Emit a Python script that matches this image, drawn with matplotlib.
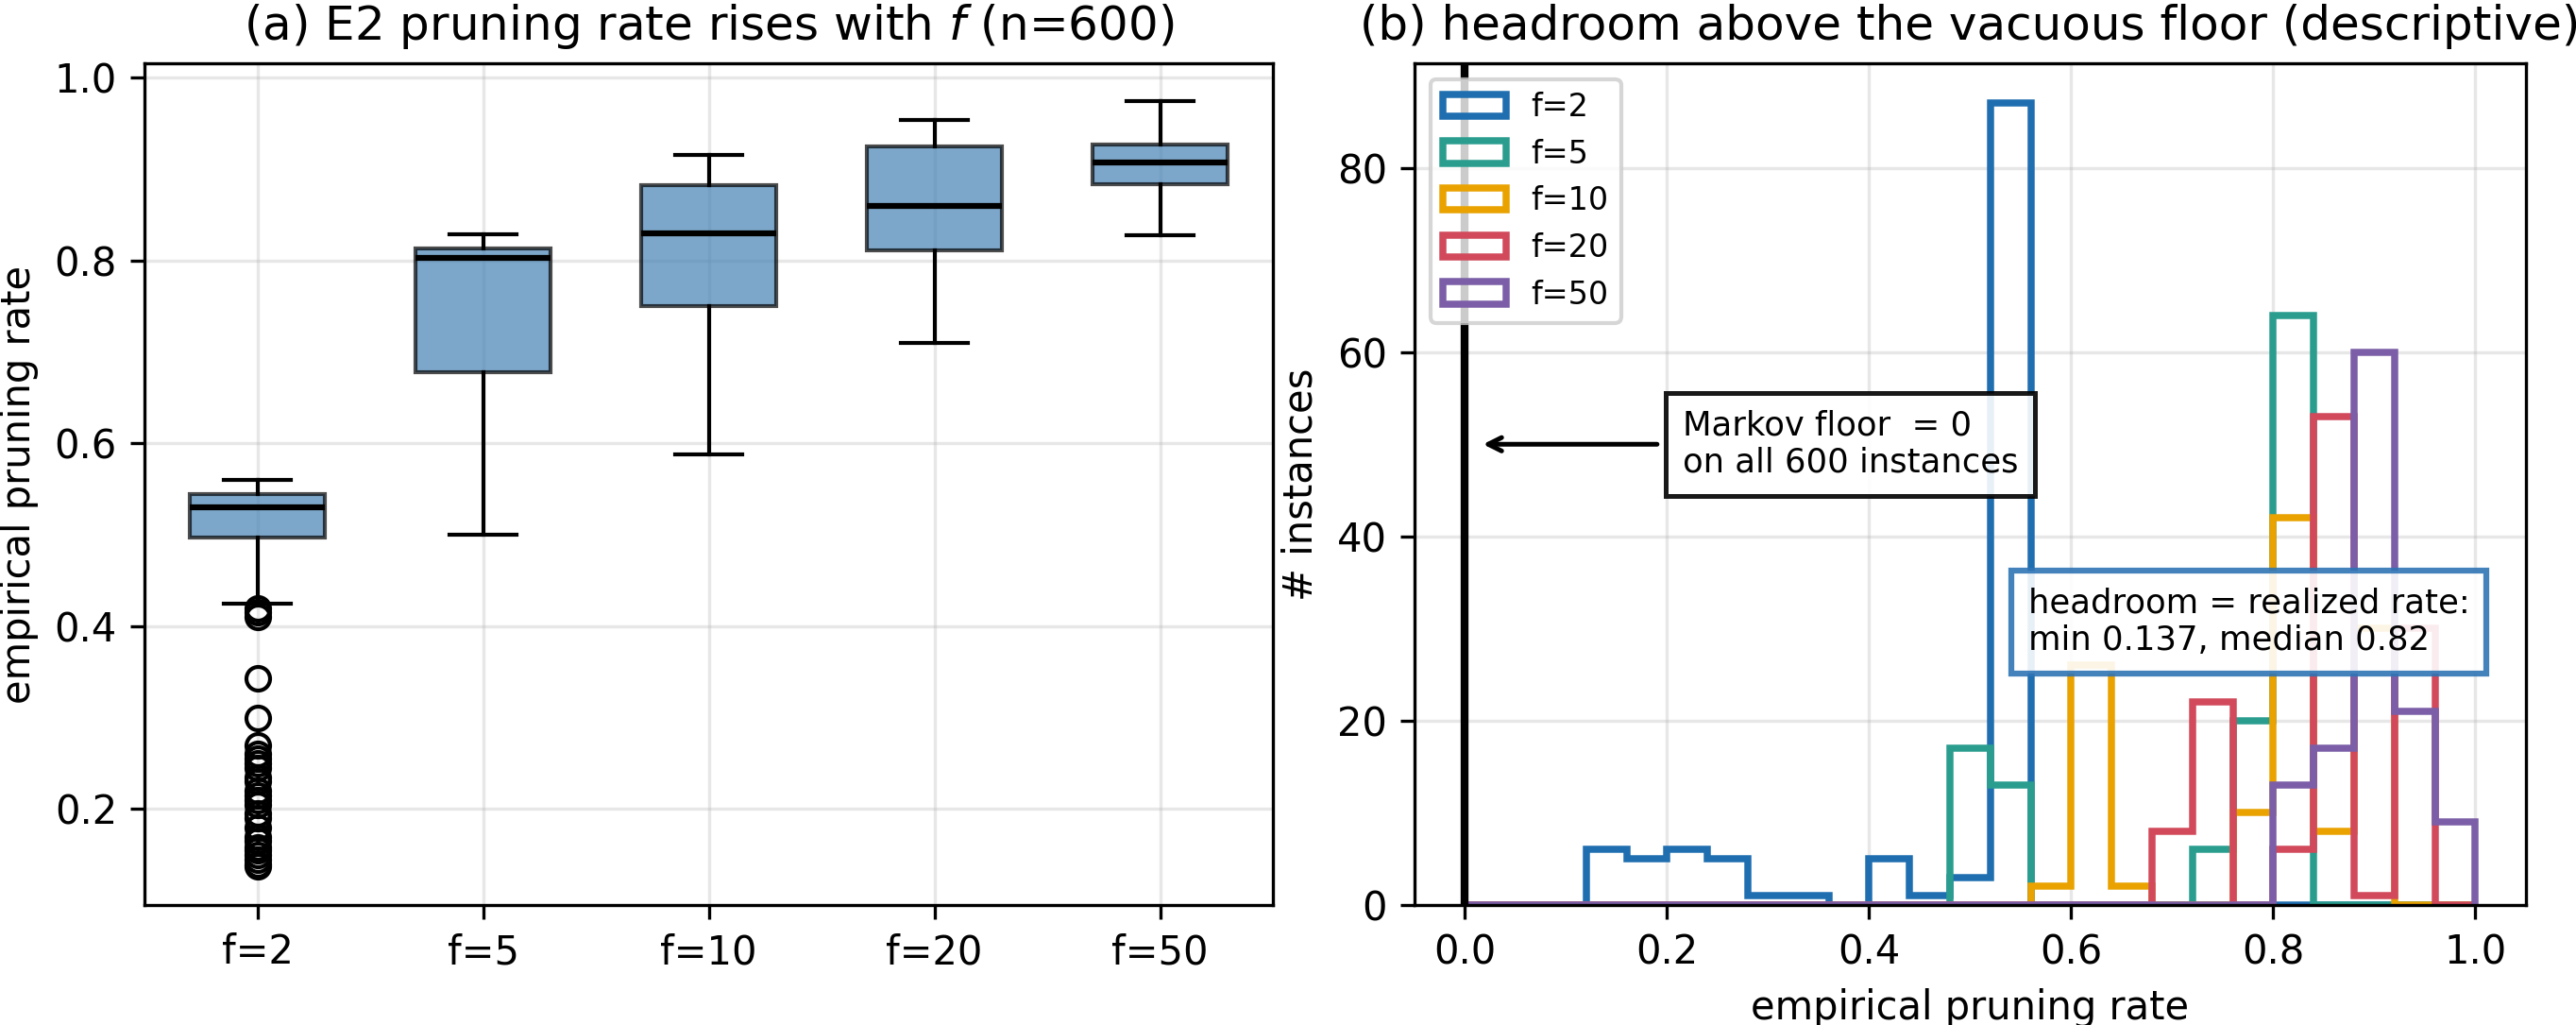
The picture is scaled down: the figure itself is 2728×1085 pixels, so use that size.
import matplotlib
matplotlib.use("Agg")
import matplotlib.pyplot as plt
import numpy as np

# panel (a): box statistics per fan-out f
box_labels = ["f=2", "f=5", "f=10", "f=20", "f=50"]
box_q1 = [0.497, 0.678, 0.750, 0.811, 0.884]
box_med = [0.530, 0.803, 0.830, 0.860, 0.907]
box_q3 = [0.545, 0.813, 0.882, 0.925, 0.927]
box_lo = [0.425, 0.500, 0.588, 0.710, 0.828]
box_hi = [0.560, 0.829, 0.916, 0.954, 0.974]
f2_outliers = [0.137, 0.14, 0.145, 0.15, 0.155, 0.158, 0.165, 0.17, 0.18,
               0.19, 0.195, 0.205, 0.21, 0.215, 0.22, 0.23, 0.235, 0.245,
               0.25, 0.255, 0.26, 0.27, 0.30, 0.343, 0.41, 0.415, 0.42]

# panel (b): histogram counts, 25 bins of width 0.04 on [0, 1]
bin_edges = np.linspace(0, 1, 26)
counts_f2 = [0, 0, 0, 6, 5, 6, 5, 1, 1, 0, 5, 1, 3, 87, 0, 0, 0, 0, 0, 0, 0, 0, 0, 0, 0]
counts_f5 = [0, 0, 0, 0, 0, 0, 0, 0, 0, 0, 0, 0, 17, 13, 0, 0, 0, 0, 6, 20, 64, 0, 0, 0, 0]
counts_f10 = [0, 0, 0, 0, 0, 0, 0, 0, 0, 0, 0, 0, 0, 0, 2, 26, 2, 0, 0, 10, 42, 8, 30, 0, 0]
counts_f20 = [0, 0, 0, 0, 0, 0, 0, 0, 0, 0, 0, 0, 0, 0, 0, 0, 0, 8, 22, 0, 6, 53, 1, 30, 0]
counts_f50 = [0, 0, 0, 0, 0, 0, 0, 0, 0, 0, 0, 0, 0, 0, 0, 0, 0, 0, 0, 0, 13, 17, 60, 21, 9]
hist_colors = ["#1f6eb0", "#2a9d8f", "#e9a200", "#d1495b", "#7b5ea7"]

fig = plt.figure(figsize=(2729 / 300, 1085 / 300), dpi=300)
ax1 = fig.add_axes([0.0561, 0.1171, 0.4379, 0.8212])
ax2 = fig.add_axes([0.5489, 0.1171, 0.4313, 0.8212])

# (a) boxplot
stats = []
for i, lab in enumerate(box_labels):
    stats.append({
        "label": lab, "med": box_med[i], "q1": box_q1[i], "q3": box_q3[i],
        "whislo": box_lo[i], "whishi": box_hi[i],
        "fliers": f2_outliers if i == 0 else [],
    })
bp = ax1.bxp(stats, patch_artist=True, widths=0.6,
             medianprops={"color": "black", "lw": 1.5},
             whiskerprops={"lw": 1.0}, capprops={"lw": 1.0})
for box in bp["boxes"]:
    box.set_facecolor("steelblue")
    box.set_alpha(0.7)
ax1.grid(True, alpha=0.3)
ax1.set_ylabel("empirical pruning rate", fontsize=10)
ax1.set_title("(a) E2 pruning rate rises with $f$ (n=600)", fontsize=12)

# (b) step histograms
centers = bin_edges[:-1] + 0.02
series = [counts_f2, counts_f5, counts_f10, counts_f20, counts_f50]
for lab, cnt, col in zip(box_labels, series, hist_colors):
    ax2.hist(centers, bins=bin_edges, weights=cnt, histtype="step",
             lw=1.8, color=col, label=lab)
ax2.axvline(0, color="black", lw=2.0)
ax2.grid(True, alpha=0.3)
ax2.set_xlabel("empirical pruning rate", fontsize=10)
ax2.set_ylabel("# instances", fontsize=10)
ax2.set_title("(b) headroom above the vacuous floor (descriptive)", fontsize=12)
ax2.legend(loc="upper left", fontsize=8)

ax2.annotate("Markov floor  = 0\non all 600 instances", xy=(0.01, 50), xytext=(0.215, 50),
             fontsize=8.5, ha="left", va="center",
             arrowprops=dict(arrowstyle="->", color="black", lw=1.2),
             bbox=dict(boxstyle="square,pad=0.5", fc="white", ec="black", lw=1.2, alpha=0.9))
ax2.text(0.552, 0.336, "headroom = realized rate:\nmin 0.137, median 0.82",
         transform=ax2.transAxes, fontsize=8.5, ha="left", va="center",
         bbox=dict(boxstyle="square,pad=0.5", fc="white", ec="#2f74b5", lw=1.5, alpha=0.9))

fig.savefig("out.png", dpi=300)
